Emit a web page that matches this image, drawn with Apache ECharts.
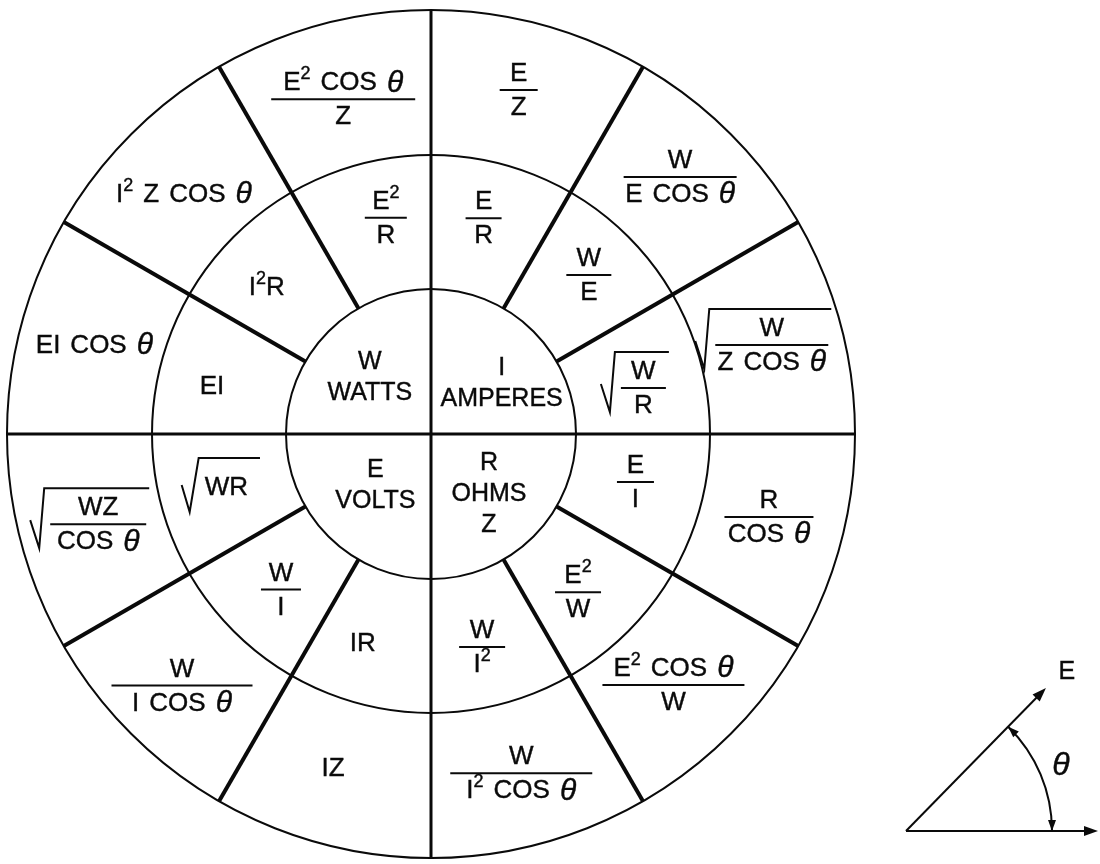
<!DOCTYPE html>
<html><head><meta charset="utf-8">
<script src="https://cdn.jsdelivr.net/npm/echarts@6/dist/echarts.min.js"></script>
<style>html,body{margin:0;padding:0;background:#fff}#main{width:1100px;height:864px}</style>
</head><body><div id="main"></div>
<script>
// ---------------- data ----------------
// quadrant quantities (45°,135°,225°,315°), '|' = line break
const centerTerms = ['I|AMPERES', 'W|WATTS', 'E|VOLTS', 'R|OHMS|Z'];
// sectors counter-clockwise from 3 o'clock, 30° each.  '^' superscript, '/' fraction, leading '√' root
const middleTerms = ['√W/R', 'W/E', 'E/R', 'E^2/R', 'I^2R', 'EI', '√WR', 'W/I', 'IR', 'W/I^2', 'E^2/W', 'E/I'];
const outerTerms = ['√W/Z COS θ', 'W/E COS θ', 'E/Z', 'E^2 COS θ/Z', 'I^2 Z COS θ', 'EI COS θ',
                    '√WZ/COS θ', 'W/I COS θ', 'IZ', 'W/I^2 COS θ', 'E^2 COS θ/W', 'R/COS θ'];
const ringRadii = [145, 279, 424];
const axisAngles = [0, 90, 180, 270];
const spokeAngles = [30, 60, 120, 150, 210, 240, 300, 330];
const phasorAngle = 45.6;     // θ between E and reference
const phasorLength = 200;
const referenceLength = 192;
const thetaArcRadius = 146;

// ---------------- layout (label anchors in polar [radius, angle]) ----------------
const centerPlace = [[87, 35.7], [83, 137.4], [76, 222.9], [83.5, 314]];
const middlePlace = [[209, 12.7], [224, 45.2], [222, 76.3], [221, 101.8], [220, 138.3], [224, 167.9],
                     [217, 194.4], [216, 226], [221, 252], [219, 283.5], [216, 312.9], [210, 346.8]];
const outerPlace = [[344, 15], [358, 45.9], [355, 75.7], [346, 104.7], [344, 135.9], [348, 165.3],
                    [353, 194.8], [354, 225.3], [349, 253.7], [351, 284.9], [349, 314], [348, 346.2]];
const middleBar = [45, 45, 36, 42, null, null, null, 40, null, 46, 46, 37];
const outerBar = [113, 113, 38, 144, null, null, 96, 141, null, 142, 142, 89];

const INK = '#0a0a0a';
const FAM = '"Liberation Sans", Arial, Helvetica, sans-serif';
const FONT = { n: '26px ' + FAM, c: '25px ' + FAM, s: '18px ' + FAM, t: 'italic 30px ' + FAM };
const YOFF = { n: 0, c: 0, s: -9, t: 0 };
const GAP = 10;
const mctx = document.createElement('canvas').getContext('2d');
function mw(text, kind) { if (kind === 'g') return GAP; mctx.font = FONT[kind]; return mctx.measureText(text).width; }
function tokenize(str, base) {
  const toks = []; let buf = '';
  const flush = () => { if (buf) toks.push({ t: buf, k: base }); buf = ''; };
  for (let i = 0; i < str.length; i++) {
    const ch = str[i];
    if (ch === '^') { flush(); toks.push({ t: str[++i], k: 's' }); }
    else if (ch === 'θ') { flush(); toks.push({ t: 'θ', k: 't' }); }
    else if (ch === ' ') { flush(); toks.push({ t: ' ', k: 'g' }); }
    else buf += ch;
  }
  flush();
  return toks;
}
function runWidth(str) { return tokenize(str, 'n').reduce((s, k) => s + mw(k.t, k.k), 0); }
function run(str, cx, cy, base) {
  const toks = tokenize(str, base || 'n');
  const ws = toks.map(k => mw(k.t, k.k));
  let x = cx - ws.reduce((a, b) => a + b, 0) / 2;
  const out = [];
  toks.forEach((k, i) => {
    if (k.k !== 'g') {
      out.push({ type: 'text', style: { text: k.t, x: x, y: cy + YOFF[k.k], font: FONT[k.k], fill: INK,
        stroke: INK, lineWidth: 0.4,
        align: 'left', verticalAlign: 'middle', textAlign: 'left', textVerticalAlign: 'middle' } });
    }
    x += ws[i];
  });
  return out;
}
function seg(x1, y1, x2, y2, w) {
  return { type: 'line', shape: { x1, y1, x2, y2 }, style: { stroke: INK, lineWidth: w || 2 } };
}
function poly(points) {
  return { type: 'polyline', shape: { points }, style: { stroke: INK, lineWidth: 2, fill: 'none', lineJoin: 'miter' } };
}
const NUM_DY = -16, DEN_DY = 18;
function fracEls(num, den, cx, cy, barW) {
  const w = barW || Math.max(runWidth(num), runWidth(den)) + 20;
  return [...run(num, cx, cy + NUM_DY), ...run(den, cx, cy + DEN_DY), seg(cx - w / 2, cy, cx + w / 2, cy)];
}
function sqrtFracEls(num, den, cx, cy, barW) {
  const fw = barW || Math.max(runWidth(num), runWidth(den)) + 8;
  const total = 20 + fw + 3;
  const x0 = cx - total / 2;
  const fx = x0 + 20 + fw / 2;
  return [...run(num, fx, cy + NUM_DY), ...run(den, fx, cy + DEN_DY), seg(x0 + 20, cy, x0 + 20 + fw, cy),
    poly([[x0, cy - 4], [x0 + 9, cy + 24], [x0 + 14, cy - 36], [x0 + total, cy - 36]])];
}
function sqrtEls(str, cx, cy) {
  const w = runWidth(str);
  const total = 23 + w + 12;
  const x0 = cx - total / 2;
  return [...run(str, x0 + 23 + w / 2, cy),
    poly([[x0, cy - 3], [x0 + 8, cy + 24], [x0 + 17, cy - 30], [x0 + total, cy - 30]])];
}
function termEls(term, cx, cy, barW) {
  if (term.indexOf('|') >= 0) {
    const lines = term.split('|');
    let out = [];
    lines.forEach((l, i) => { out = out.concat(run(l, cx, cy + (i - (lines.length - 1) / 2) * 31, 'c')); });
    return out;
  }
  if (term[0] === '√') {
    const body = term.slice(1);
    if (body.indexOf('/') >= 0) { const p = body.split('/'); return sqrtFracEls(p[0], p[1], cx, cy, barW); }
    return sqrtEls(body, cx, cy);
  }
  if (term.indexOf('/') >= 0) { const p = term.split('/'); return fracEls(p[0], p[1], cx, cy, barW); }
  return run(term, cx, cy);
}

// label table built from the arrays
const LABELS = [];
centerTerms.forEach((t, i) => LABELS.push({ term: t, place: centerPlace[i], bar: null }));
middleTerms.forEach((t, i) => LABELS.push({ term: t, place: middlePlace[i], bar: middleBar[i] }));
outerTerms.forEach((t, i) => LABELS.push({ term: t, place: outerPlace[i], bar: outerBar[i] }));

const chart = echarts.init(document.getElementById('main'));
const option = {
  animation: false,
  backgroundColor: '#fff',
  polar: { center: [431, 434], radius: 424 },
  radiusAxis: { type: 'value', min: 0, max: 424, show: false },
  angleAxis: { type: 'value', min: 0, max: 360, startAngle: 0, clockwise: false, show: false },
  grid: { left: 906, top: 631, width: 194, height: 200 },
  xAxis: { type: 'value', min: 0, max: 194, show: false },
  yAxis: { type: 'value', min: 0, max: 200, show: false },
  series: [
    { // rings
      type: 'custom', coordinateSystem: 'polar', silent: true,
      encode: { radius: 0, angle: 1 },
      data: ringRadii.map(r => [r, 0]),
      renderItem: (params, api) => {
        const c = api.coord([0, 0]);
        const p = api.coord([api.value(0), 0]);
        const r = Math.hypot(p[0] - c[0], p[1] - c[1]);
        return { type: 'circle', shape: { cx: c[0], cy: c[1], r }, style: { fill: 'none', stroke: INK, lineWidth: 2 } };
      }
    },
    { // diameters
      type: 'custom', coordinateSystem: 'polar', silent: true,
      encode: { radius: 0, angle: 1 },
      data: axisAngles.map(a => [0, a, ringRadii[2]]),
      renderItem: (params, api) => {
        const a = api.coord([api.value(0), api.value(1)]);
        const b = api.coord([api.value(2), api.value(1)]);
        return seg(a[0], a[1], b[0], b[1], 3);
      }
    },
    { // spokes
      type: 'custom', coordinateSystem: 'polar', silent: true,
      encode: { radius: 0, angle: 1 },
      data: spokeAngles.map(a => [ringRadii[0], a, ringRadii[2]]),
      renderItem: (params, api) => {
        const a = api.coord([api.value(0), api.value(1)]);
        const b = api.coord([api.value(2), api.value(1)]);
        return seg(a[0], a[1], b[0], b[1], 4);
      }
    },
    { // formulas
      type: 'custom', coordinateSystem: 'polar', silent: true,
      encode: { radius: 0, angle: 1 },
      data: LABELS.map((L, i) => [L.place[0], L.place[1], i]),
      renderItem: (params, api) => {
        const L = LABELS[api.value(2)];
        const p = api.coord([api.value(0), api.value(1)]);
        return { type: 'group', children: termEls(L.term, p[0], p[1], L.bar) };
      }
    },
    { // phasor diagram
      type: 'custom', coordinateSystem: 'cartesian2d', silent: true,
      data: [[0, 0]],
      renderItem: (params, api) => {
        const o = api.coord([0, 0]);
        const th = phasorAngle * Math.PI / 180;
        const tipE = api.coord([phasorLength * Math.cos(th), phasorLength * Math.sin(th)]);
        const tipR = api.coord([referenceLength, 0]);
        const r = api.size([thetaArcRadius, 0])[0];
        function head(tip, dx, dy, len, half) {
          const bx = tip[0] - dx * len, by = tip[1] - dy * len;
          return { type: 'polygon', shape: { points: [tip, [bx - dy * half, by + dx * half], [bx + dy * half, by - dx * half]] }, style: { fill: INK } };
        }
        const ue = [Math.cos(th), -Math.sin(th)];
        const arcEnd = [o[0] + r, o[1]];
        const arcStart = [o[0] + r * Math.cos(-th), o[1] + r * Math.sin(-th)];
        const labE = [tipE[0] + 21, tipE[1] - 16];
        const lr = r + 22, la = th / 2;
        const labT = [o[0] + lr * Math.cos(la), o[1] - lr * Math.sin(la)];
        return { type: 'group', children: [
          seg(o[0], o[1], tipR[0] - 8, tipR[1], 2),
          head(tipR, 1, 0, 14, 5),
          seg(o[0], o[1], tipE[0] - ue[0] * 8, tipE[1] - ue[1] * 8, 2),
          head(tipE, ue[0], ue[1], 14, 5),
          { type: 'arc', shape: { cx: o[0], cy: o[1], r: r, startAngle: -th, endAngle: 0, clockwise: true }, style: { stroke: INK, lineWidth: 2, fill: 'none' } },
          head(arcEnd, 0, 1, 11, 4),
          head(arcStart, -Math.sin(th), -Math.cos(th), 11, 4),
          { type: 'text', style: { text: 'E', x: labE[0], y: labE[1], font: '25px ' + FAM, fill: INK, stroke: INK, lineWidth: 0.4, align: 'center', verticalAlign: 'middle' } },
          { type: 'text', style: { text: 'θ', x: labT[0], y: labT[1], font: 'italic 32px ' + FAM, fill: INK, stroke: INK, lineWidth: 0.4, align: 'center', verticalAlign: 'middle' } }
        ] };
      }
    }
  ]
};
chart.setOption(option);
</script>
</body></html>
